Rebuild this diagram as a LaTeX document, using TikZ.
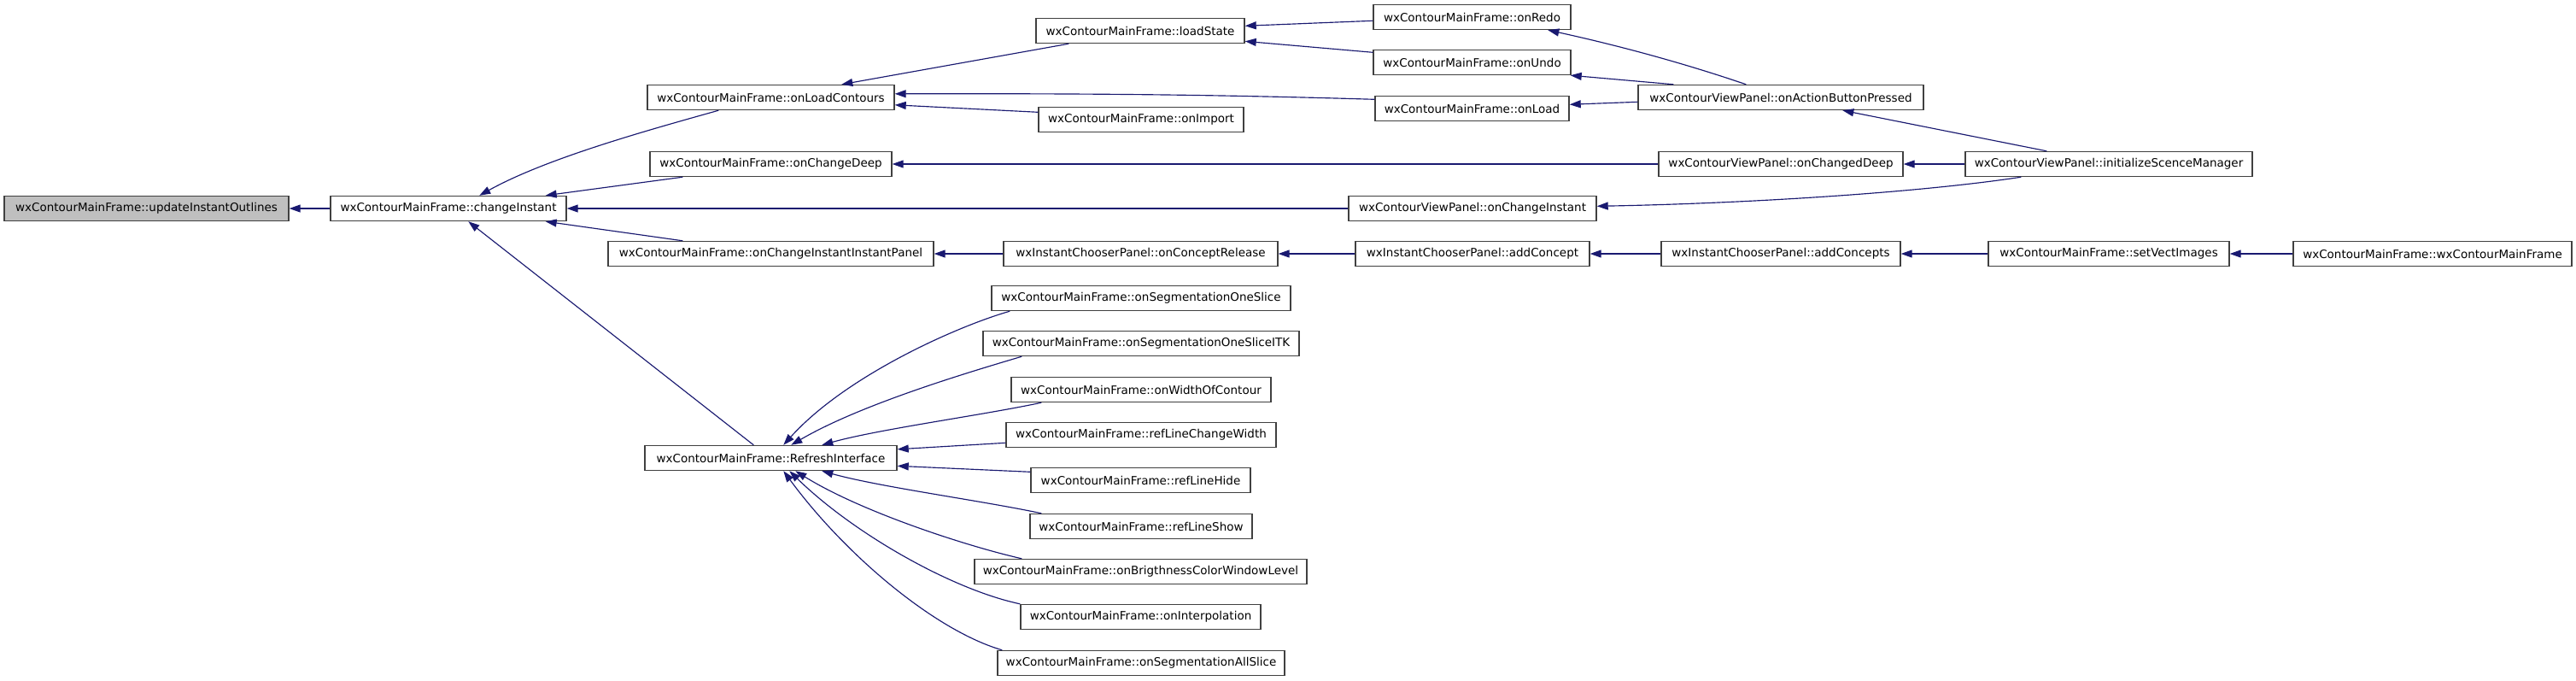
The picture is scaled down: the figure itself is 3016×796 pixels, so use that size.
\documentclass[tikz,border=0pt]{standalone}
\usepackage{fontspec}
\setmainfont{DejaVu Sans}
\usetikzlibrary{arrows.meta,calc}
\definecolor{edgeblue}{HTML}{191970}
\definecolor{boxgray}{HTML}{BFBFBF}
\definecolor{boxline}{HTML}{404040}
\tikzset{
  fnbox/.style={draw=boxline, line width=1.4pt, fill=white, minimum height=29pt, inner sep=0pt,
    font=\fontsize{13.5}{16}\selectfont},
  rootbox/.style={fnbox, fill=boxgray},
  edge/.style={draw=edgeblue, line width=1.15pt, -{Triangle[length=13pt,width=9pt]}}
}
\begin{document}
\begin{tikzpicture}[x=1pt,y=-1pt]
\useasboundingbox (0,0) rectangle (3016,796);
% nodes
\node[rootbox, minimum width=333pt] (A) at (171.5,244) {wxContourMainFrame::updateInstantOutlines};
\node[fnbox, minimum width=276pt] (B) at (525,244) {wxContourMainFrame::changeInstant};
\node[fnbox, minimum width=289pt] (C) at (902.5,114) {wxContourMainFrame::onLoadContours};
\node[fnbox, minimum width=283pt] (D) at (902.5,192) {wxContourMainFrame::onChangeDeep};
\node[fnbox, minimum width=381pt] (E) at (902.5,297) {wxContourMainFrame::onChangeInstantInstantPanel};
\node[fnbox, minimum width=295pt] (F) at (902.5,536) {wxContourMainFrame::RefreshInterface};
\node[fnbox, minimum width=244pt] (G) at (1335,36) {wxContourMainFrame::loadState};
\node[fnbox, minimum width=240pt] (H) at (1336,140) {wxContourMainFrame::onImport};
\node[fnbox, minimum width=231pt] (I) at (1723.5,20) {wxContourMainFrame::onRedo};
\node[fnbox, minimum width=231pt] (J) at (1723.5,73) {wxContourMainFrame::onUndo};
\node[fnbox, minimum width=227pt] (K) at (1723.5,127) {wxContourMainFrame::onLoad};
\node[fnbox, minimum width=290pt] (L) at (1724,244) {wxContourViewPanel::onChangeInstant};
\node[fnbox, minimum width=321pt] (M) at (1335.5,297) {wxInstantChooserPanel::onConceptRelease};
\node[fnbox, minimum width=274pt] (N) at (1724,297) {wxInstantChooserPanel::addConcept};
\node[fnbox, minimum width=334pt] (O) at (2085,114) {wxContourViewPanel::onActionButtonPressed};
\node[fnbox, minimum width=286pt] (P) at (2085,192) {wxContourViewPanel::onChangedDeep};
\node[fnbox, minimum width=280pt] (Q) at (2085,297) {wxInstantChooserPanel::addConcepts};
\node[fnbox, minimum width=336pt] (R) at (2469,192) {wxContourViewPanel::initializeScenceManager};
\node[fnbox, minimum width=282pt] (S) at (2469,297) {wxContourMainFrame::setVectImages};
\node[fnbox, minimum width=326pt] (T) at (2848,297) {wxContourMainFrame::wxContourMainFrame};
\node[fnbox, minimum width=350pt] (U1) at (1336,349) {wxContourMainFrame::onSegmentationOneSlice};
\node[fnbox, minimum width=370pt] (U2) at (1336,402) {wxContourMainFrame::onSegmentationOneSliceITK};
\node[fnbox, minimum width=304pt] (U3) at (1336,456) {wxContourMainFrame::onWidthOfContour};
\node[fnbox, minimum width=316pt] (U4) at (1336,509) {wxContourMainFrame::refLineChangeWidth};
\node[fnbox, minimum width=257pt] (U5) at (1335.5,562) {wxContourMainFrame::refLineHide};
\node[fnbox, minimum width=260pt] (U6) at (1336,616) {wxContourMainFrame::refLineShow};
\node[fnbox, minimum width=389pt] (U7) at (1335.5,669) {wxContourMainFrame::onBrigthnessColorWindowLevel};
\node[fnbox, minimum width=281pt] (U8) at (1335.5,722) {wxContourMainFrame::onInterpolation};
\node[fnbox, minimum width=336pt] (U9) at (1336,776) {wxContourMainFrame::onSegmentationAllSlice};
% edges
\draw[edge] (B.west) -- (A.east);
\draw[edge] ($(C.south west)+(84,0)$) .. controls (760,152) and (640,185) .. ($(B.north west)+(175,0)$);
\draw[edge] ($(D.south west)+(39,0)$) -- ($(B.north east)+(-25,0)$);
\draw[edge] (L.west) -- (B.east);
\draw[edge] ($(E.north west)+(88,0)$) -- ($(B.south east)+(-25,0)$);
\draw[edge] ($(F.north west)+(128,0)$) -- ($(B.south west)+(162,0)$);
\draw[edge] ($(G.south west)+(39,0)$) -- ($(C.north west)+(228,0)$);
\draw[edge] ($(K.north west)+(0,4.5)$) .. controls (1400,110) and (1250,109.5) .. ($(C.north east)+(0,11)$);
\draw[edge] ($(H.north west)+(0,6.5)$) -- ($(C.north east)+(0,24)$);
\draw[edge] ($(I.north west)+(0,19.5)$) -- ($(G.north east)+(0,9.5)$);
\draw[edge] ($(J.north west)+(0,3.5)$) -- ($(G.north east)+(0,27.5)$);
\draw[edge] ($(O.north west)+(127,0)$) .. controls (1960,70) and (1880,50) .. ($(I.south west)+(205,0)$);
\draw[edge] ($(O.north west)+(42,0)$) -- ($(J.south east)+(-1,0)$);
\draw[edge] ($(O.north west)+(0,20.5)$) -- ($(K.north east)+(0,10.5)$);
\draw[edge] ($(R.north west)+(96,0)$) -- ($(O.south west)+(240,0)$);
\draw[edge] (P.west) -- (D.east);
\draw[edge] (R.west) -- (P.east);
\draw[edge] ($(R.south west)+(66,0)$) .. controls (2250,225) and (2050,238) .. ($(L.north east)+(0,12.5)$);
\draw[edge] (M.west) -- (E.east);
\draw[edge] (N.west) -- (M.east);
\draw[edge] (Q.west) -- (N.east);
\draw[edge] (S.west) -- (Q.east);
\draw[edge] (T.west) -- (S.east);
\draw[edge] ($(U1.south west)+(22,0)$) .. controls (1120,382) and (990,440) .. ($(F.north west)+(163,0)$);
\draw[edge] ($(U2.south west)+(46,0)$) .. controls (1140,434) and (1010,472) .. ($(F.north west)+(172,0)$);
\draw[edge] ($(U3.south west)+(36,0)$) .. controls (1150,486) and (1030,502) .. ($(F.north west)+(208,0)$);
\draw[edge] ($(U4.north west)+(0,24.5)$) -- ($(F.north east)+(0,5)$);
\draw[edge] ($(U5.north west)+(0,5.5)$) -- ($(F.north east)+(0,24.5)$);
\draw[edge] ($(U6.north west)+(14,0)$) .. controls (1150,586) and (1030,570) .. ($(F.south west)+(208,0)$);
\draw[edge] ($(U7.north west)+(56,0)$) .. controls (1135,640) and (1010,600) .. ($(F.south west)+(177,0)$);
\draw[edge] ($(U8.north west)$) .. controls (1115,690) and (1000,625) .. ($(F.south west)+(170,0)$);
\draw[edge] ($(U9.north west)+(6,0)$) .. controls (1095,738) and (990,650) .. ($(F.south west)+(163,0)$);
\end{tikzpicture}
\end{document}
